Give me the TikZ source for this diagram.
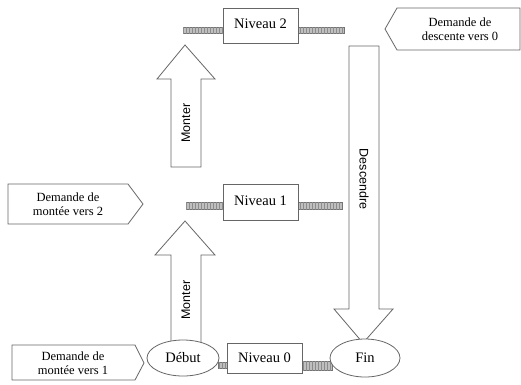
\documentclass[tikz,border=0pt]{standalone}
\usepackage{fontspec}
\usetikzlibrary{shapes.geometric,patterns}
\setmainfont{Liberation Serif}
\newfontfamily\arrowfont{Liberation Sans}
\begin{document}
\begin{tikzpicture}[x=1pt,y=-1pt,
  ln/.style={draw=black!60,line width=0.8pt},
  bar/.style={draw=black!55,fill=black!25,line width=0.6pt,postaction={pattern=vertical lines,pattern color=black!45}},
  lvl/.style={ln,fill=white,minimum width=75pt,inner sep=0pt,font=\fontsize{14.5}{16}\selectfont},
  req/.style={align=center,font=\fontsize{12.5}{13.5}\selectfont,inner sep=0pt},
  arrtxt/.style={font=\arrowfont\fontsize{12.5}{14}\selectfont,inner sep=0pt},
  ell/.style={ln,ellipse,fill=white,inner sep=0pt,font=\fontsize{14.5}{16}\selectfont}]
\useasboundingbox (0,0) rectangle (521,384);
% bars
\draw[bar] (183,27) rectangle (223,33);
\draw[bar] (298,27) rectangle (344,33);
\draw[bar] (186,202) rectangle (223,209);
\draw[bar] (298,202) rectangle (342,209);
\draw[bar] (218,362) rectangle (227,368);
\draw[bar] (302,361) rectangle (332,370);
% level boxes
\node[lvl,minimum height=35pt] (n2) at (260.5,25.5) {\raisebox{4pt}{Niveau 2}};
\node[lvl,minimum height=36pt] (n1) at (260.5,202) {\raisebox{2pt}{Niveau 1}};
\node[lvl,minimum height=30pt] (n0) at (264.5,358) {Niveau 0};
% arrows
\draw[ln,fill=white] (171,167) -- (171,79) -- (157,79) -- (185,45) -- (215,79) -- (201,79) -- (201,167) -- cycle;
\node[arrtxt,rotate=90] (m2) at (186,123) {Monter};
\draw[ln,fill=white] (171,345) -- (171,255) -- (155,255) -- (185,221) -- (215,255) -- (201,255) -- (201,345) -- cycle;
\node[arrtxt,rotate=90] (m1) at (186,300) {Monter};
\draw[ln,fill=white] (349,46) -- (379,46) -- (379,309) -- (393,309) -- (363,343) -- (334,309) -- (349,309) -- cycle;
\node[arrtxt,rotate=-90] (d0) at (364,179) {Descendre};
% ellipses
\node[ell,minimum width=72pt,minimum height=36pt] (deb) at (183,358) {Début};
\node[ell,minimum width=70pt,minimum height=38pt] (fin) at (365,358) {Fin};
% requests
\draw[ln,fill=white] (397,8) -- (520,8) -- (520,50) -- (397,50) -- (385,29) -- cycle;
\node[req] (r0) at (460,29) {Demande de\\descente vers 0};
\draw[ln,fill=white] (8,184) -- (128,184) -- (143,204) -- (128,224) -- (8,224) -- cycle;
\node[req] (r2) at (68,204) {Demande de\\montée vers 2};
\draw[ln,fill=white] (12,345) -- (135,345) -- (144,363) -- (135,380) -- (12,380) -- cycle;
\node[req] (r1) at (73,363) {Demande de\\montée vers 1};
\end{tikzpicture}
\end{document}
